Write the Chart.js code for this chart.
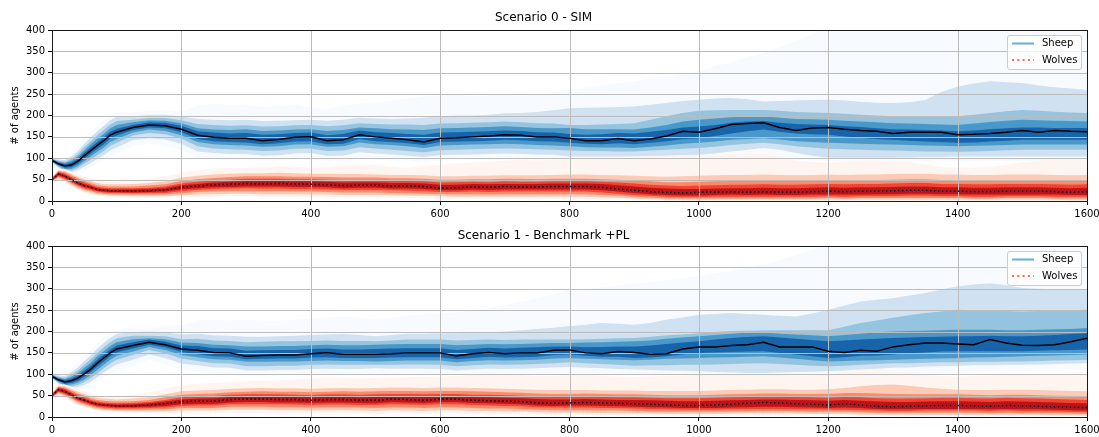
<!DOCTYPE html>
<html>
<head>
<meta charset="utf-8">
<title>Sheep and wolves population fans</title>
<script src="https://cdn.jsdelivr.net/npm/chart.js@4.4.1/dist/chart.umd.min.js"></script>
<style>
  html, body { margin: 0; padding: 0; background: #fff; }
  canvas { display: block; }
</style>
</head>
<body>
<canvas id="panel0" width="1099" height="218"></canvas>
<canvas id="panel1" width="1099" height="219"></canvas>
<script>
// Simulation steps at which the percentile bands were sampled
const steps = [0,10,20,30,40,50,60,70,80,90,100,125,150,175,200,225,250,275,300,325,350,375,400,425,450,475,500,525,550,575,600,625,650,675,700,725,750,775,800,825,850,875,900,925,950,975,1000,1025,1050,1075,1100,1125,1150,1175,1200,1225,1250,1275,1300,1325,1350,1375,1400,1425,1450,1475,1500,1525,1550,1575,1600];

const panelTitles = ['Scenario 0 - SIM', 'Scenario 1 - Benchmark +PL'];
const seriesNames = ['Sheep', 'Wolves'];
const yAxisLabel = '# of agents';
const xTickValues = [0, 200, 400, 600, 800, 1000, 1200, 1400, 1600];
const yTickValues = [0, 50, 100, 150, 200, 250, 300, 350, 400];

// ---- Scenario 0: sheep (median + nested bands, 0 = widest, 4 = narrowest)
const s0SheepMed = [95,87,82,84,93,106,118,130,141,154,161, 172,178,176,168, 154,149,147,147,141,144,149,150, 141,143,155,150,147,143,138,147, 148,150,152,155,154,150,150,147, 141,141,146,141,145,152,163,161, 169,179,181,183,172,165,171,172, 168,165,163,158,161,161,161,155, 156,158,161,165,161,165,163,162];
const s0SheepLo0 = [88,74,64,62,66,72,80,88,95,104,110, 128,134,130,118, 101,98,96,97,93,95,97,98, 92,93,99,97,95,93,90,94, 95,96,96,97,96,95,94,94, 94,94,95,95,96,96,97,97, 98,99,100,101,99,96,94,93, 92,91,90,89,90,91,92,93, 93,93,93,93,93,93,94,94];
const s0SheepHi0 = [102,101,102,112,128,146,162,177,190,200,207, 208,211,212,210, 222,228,224,226,220,222,225,219, 216,222,228,230,235,240,245,248, 250,245,248,250,252,250,255,260, 265,270,275,280,288,292,298,303, 315,325,336,346,360,375,390,410, 410,410,410,410,410,410,410,410, 410,410,410,410,410,410,410,410];
const s0SheepLo1 = [90,78,69,67,72,80,89,98,107,118,125, 142,147,144,134, 116,112,110,110,106,107,111,112, 105,106,114,111,109,106,103,107, 108,109,110,111,110,109,108,104, 104,104,104,104,105,106,107,108, 111,116,120,124,120,112,106,101, 101,101,101,101,102,103,103,104, 104,104,104,104,104,104,104,104];
const s0SheepHi1 = [100,97,96,104,117,134,149,163,176,189,197, 198,201,202,198, 192,190,189,190,187,188,189,190, 188,190,195,193,192,193,195,198, 200,200,202,205,206,208,212,217, 218,219,220,221,225,229,234,237, 240,241,238,233,234,235,236,237, 235,232,230,229,231,236,255,268, 275,280,278,276,270,266,263,260];
const s0SheepLo2 = [91,80,72,71,77,87,97,107,117,129,136, 153,159,156,146, 128,123,121,120,117,118,122,123, 117,118,126,123,120,117,114,119, 120,121,122,123,122,121,120,118, 117,117,116,116,118,120,122,124, 127,131,134,136,133,128,125,122, 121,120,119,118,117,116,116,115, 116,117,119,120,120,120,120,120];
const s0SheepHi2 = [99,94,92,98,110,126,140,154,166,179,187, 190,194,194,189, 180,178,176,177,174,175,177,178, 175,177,182,180,179,179,178,181, 182,183,184,186,184,182,181,178, 178,179,180,182,190,198,206,211, 212,213,213,213,211,208,207,206, 204,202,200,198,198,198,198,198, 202,206,210,213,211,209,207,206];
const s0SheepLo3 = [92,82,75,75,82,93,104,115,125,138,145, 160,167,164,154, 138,133,131,130,127,128,132,133, 127,128,137,133,131,128,124,130, 131,132,133,134,133,131,130,128, 126,125,125,124,127,130,134,136, 139,143,145,147,144,140,138,136, 135,134,133,132,131,130,129,128, 129,130,131,132,132,132,132,132];
const s0SheepHi3 = [98,92,89,94,104,119,133,146,157,170,178, 184,189,188,182, 170,167,166,168,164,165,167,168, 164,166,172,170,168,167,166,170, 171,172,173,175,173,171,170,171, 168,168,168,167,172,178,186,190, 193,196,197,198,195,192,191,190, 188,186,184,182,181,180,179,178, 181,185,188,190,189,188,187,186];
const s0SheepLo4 = [93,84,78,79,87,99,111,122,133,146,153, 166,172,170,161, 145,140,138,137,133,135,139,140, 133,134,145,140,138,135,131,138, 139,140,141,143,142,140,139,136, 134,133,135,133,136,140,145,147, 152,158,163,167,162,158,156,155, 151,148,145,143,141,139,138,136, 137,139,141,143,143,143,143,143];
const s0SheepHi4 = [97,90,86,90,99,113,126,138,149,162,169, 178,184,183,176, 163,160,158,159,155,156,159,160, 154,157,165,161,159,157,155,160, 161,162,163,165,164,161,160,157, 155,156,159,158,162,166,172,174, 178,183,186,187,183,180,179,178, 175,173,170,168,167,166,165,163, 165,168,170,172,172,171,171,171];

// ---- Scenario 0: wolves
const s0WolfMed = [50,63,58,50,42,36,32,27,25,24,24, 23,24,26,32, 35,38,39,41,40,41,40,39, 38,36,37,37,35,35,34,30, 31,33,32,34,33,33,34,34, 34,32,28,25,22,20,19,20, 21,22,21,22,21,21,22,23, 22,23,23,24,25,25,23,23, 22,22,23,23,23,22,21,22];
const s0WolfLo0 = [44,50,42,33,25,19,15,12,10,9,8, 7,7,7,8, 9,10,11,11,10,10,10,9, 9,8,8,8,7,7,6,5, 5,5,5,5,5,5,5,4, 4,3,2,2,1,1,0,0, 0,0,0,0,0,0,0,0, 0,0,0,0,0,0,0,0, 0,0,0,0,0,0,0,0];
const s0WolfHi0 = [58,75,74,69,63,57,53,48,46,45,46, 48,52,58,66, 72,76,78,77,80,82,80,78, 80,82,85,84,80,78,82,85, 88,90,92,95,96,95,96,98, 100,102,103,104,105,105,106,105, 108,110,112,110,106,95,92,90, 92,94,95,93,90,86,80,78, 78,80,85,90,94,98,100,100];
const s0WolfLo1 = [46,53,46,37,29,23,19,16,14,13,12, 11,11,11,13, 15,16,17,17,16,16,16,15, 15,14,14,14,13,12,12,11, 10,10,10,10,10,10,10,10, 10,8,7,6,4,3,3,2, 3,3,3,3,3,3,3,3, 3,3,3,3,3,3,3,3, 3,3,3,3,3,3,2,2];
const s0WolfHi1 = [56,72,70,64,57,51,47,42,40,39,39, 40,42,46,55, 59,62,64,65,65,66,65,64, 64,63,63,62,61,61,60,58, 58,59,59,60,60,60,61,62, 62,61,60,59,58,57,58,59, 60,61,61,62,61,60,61,62, 61,62,62,63,64,64,62,62, 61,61,62,62,62,61,60,61];
const s0WolfLo2 = [47,56,49,41,33,27,23,19,17,16,16, 15,15,15,18, 21,22,23,23,23,23,22,22, 21,20,20,20,19,18,17,16, 16,16,15,16,16,16,16,16, 16,14,12,10,8,6,6,6, 6,6,6,6,6,6,6,7, 6,7,7,7,7,7,7,7, 6,6,7,7,7,6,6,6];
const s0WolfHi2 = [54,70,67,60,53,47,42,37,35,34,34, 34,36,39,47, 51,54,56,58,58,58,57,57, 56,55,55,55,53,53,52,50, 50,51,51,52,52,51,52,52, 52,51,50,48,46,44,44,45, 46,47,47,48,47,47,48,49, 48,49,49,50,51,51,49,49, 48,48,49,49,49,48,47,48];
const s0WolfLo3 = [48,58,52,44,36,30,26,22,20,19,19, 18,18,19,23, 26,28,29,30,29,29,28,28, 27,26,26,26,25,24,23,21, 21,22,21,22,22,22,22,22, 22,20,17,14,12,10,9,9, 10,10,10,10,10,10,10,11, 10,11,11,11,12,12,11,11, 10,10,11,11,11,10,10,10];
const s0WolfHi3 = [53,68,64,56,49,43,38,33,31,30,30, 30,31,34,41, 45,48,50,52,52,52,51,51, 50,49,49,49,47,47,46,43, 44,45,44,46,45,45,46,46, 46,45,43,41,38,36,35,36, 37,38,38,39,38,38,39,40, 39,40,40,41,42,42,40,40, 39,39,40,40,40,39,38,39];
const s0WolfLo4 = [49,60,55,47,39,33,29,24,22,21,21, 20,21,22,27, 30,32,33,34,34,34,33,33, 32,30,31,31,29,29,28,25, 25,27,26,27,27,27,27,27, 27,25,22,19,16,14,13,13, 14,15,14,15,14,14,15,15, 15,15,16,16,17,17,16,16, 15,15,15,15,15,15,14,14];
const s0WolfHi4 = [52,66,61,53,45,39,35,30,28,27,27, 27,28,30,37, 40,43,45,47,47,47,46,46, 45,43,44,44,42,42,41,38, 38,40,39,40,40,40,41,41, 41,40,37,34,31,29,28,28, 29,30,30,31,30,30,31,32, 31,32,32,33,34,34,32,32, 31,31,32,32,32,31,30,31];

// ---- Scenario 1: sheep
const s1SheepMed = [95,87,82,85,91,101,112,126,138,150,159, 167,175,169,159, 156,151,150,142,144,145,145,148, 150,147,147,147,148,150,150,150, 143,148,151,148,150,150,156,157, 150,148,153,151,147,148,159,164, 164,167,169,175,164,164,164,154, 151,156,154,164,169,173,173,171, 169,181,173,168,167,169,176,184];
const s1SheepLo0 = [88,74,64,62,64,67,74,83,92,101,108, 118,134,124,110, 106,101,100,96,96,97,97,98, 99,98,98,101,100,100,99,98, 96,97,98,98,99,100,101,101, 100,100,99,99,98,97,96,95, 95,95,95,95,96,97,98,99, 99,99,99,99,100,101,102,103, 104,105,106,107,108,109,110,111];
const s1SheepHi0 = [102,101,102,113,127,143,157,173,187,197,205, 210,209,212,215, 225,228,226,228,226,225,228,230, 232,235,232,228,232,238,240,242, 245,250,255,262,270,278,288,298, 300,303,308,312,316,320,325,330, 336,342,350,358,366,378,392,410, 410,410,410,410,410,410,410,410, 410,410,410,410,410,410,410,410];
const s1SheepLo1 = [90,78,69,68,70,75,83,93,104,114,123, 134,146,138,125, 121,116,115,109,109,110,110,112, 113,112,112,114,113,113,113,112, 109,111,113,112,113,114,116,117, 115,114,112,111,110,109,108,107, 105,104,103,103,104,105,106,107, 109,111,113,115,116,118,119,120, 121,121,122,122,123,124,125,126];
const s1SheepHi1 = [100,97,96,105,116,131,144,160,173,185,194, 199,200,198,193, 195,191,190,188,188,189,190,192, 193,194,192,189,192,195,195,196, 196,197,198,200,203,206,209,212, 216,220,218,216,220,228,233,239, 241,243,241,239,237,235,242,251, 261,270,274,278,284,290,298,306, 310,313,308,302,300,299,298,298];
const s1SheepLo2 = [91,80,72,72,75,82,91,102,114,125,134, 145,157,149,137, 131,126,125,119,119,120,120,122, 123,122,122,122,122,123,123,122, 119,121,123,122,123,124,126,128, 126,124,122,120,121,121,122,122, 123,124,125,126,124,122,120,119, 120,122,124,126,126,127,128,128, 129,129,130,130,131,132,133,134];
const s1SheepHi2 = [99,94,92,99,109,122,135,150,163,175,184, 190,190,189,182, 183,179,178,175,176,177,177,178, 179,178,178,177,179,181,181,181, 179,180,181,180,181,181,181,181, 182,183,184,185,188,191,193,196, 199,201,202,203,203,203,203,203, 211,220,226,232,238,243,247,251, 250,249,248,247,248,249,250,251];
const s1SheepLo3 = [92,82,75,76,80,88,98,110,122,134,143, 153,164,157,145, 140,135,134,129,129,130,130,131, 132,131,131,130,131,132,132,132, 128,131,133,132,133,134,137,138, 136,135,134,133,134,136,137,138, 139,140,141,142,139,136,133,130, 131,132,133,134,135,136,137,138, 139,140,141,142,143,144,145,146];
const s1SheepHi3 = [98,92,89,94,103,115,127,142,154,166,175, 182,184,182,174, 173,169,168,165,165,166,166,168, 169,168,168,169,170,171,171,171, 168,169,171,170,171,172,173,173, 174,175,176,177,179,183,186,189, 192,195,197,198,195,193,191,189, 192,195,198,200,201,202,203,204, 204,204,203,203,204,205,206,208];
const s1SheepLo4 = [93,84,78,80,85,94,105,118,130,142,151, 160,169,163,152, 147,142,141,135,136,137,137,139, 140,138,138,138,139,140,140,140, 135,138,141,139,140,141,145,146, 143,141,141,138,139,142,146,150, 151,152,153,154,150,146,142,138, 140,143,144,146,149,151,153,154, 154,154,154,154,155,156,157,158];
const s1SheepHi4 = [97,90,86,90,97,108,120,134,146,158,167, 175,181,176,167, 166,161,160,155,156,157,157,159, 160,158,158,159,160,161,161,161, 157,159,162,160,162,163,165,165, 163,164,165,165,167,171,174,177, 181,185,187,189,186,183,180,177, 179,181,183,185,186,187,188,189, 189,190,189,189,190,192,194,196];

// ---- Scenario 1: wolves
const s1WolfMed = [50,64,60,52,44,39,34,30,28,27,26, 26,28,31,36, 37,37,41,42,42,41,41,39, 41,41,39,39,42,41,39,42, 42,39,38,37,36,33,32,33, 34,33,32,31,30,28,27,27, 28,30,32,34,33,31,30,28, 31,28,25,24,25,26,27,27, 26,25,27,26,25,24,23,22];
const s1WolfLo0 = [44,51,44,35,27,22,17,14,12,11,10, 9,9,8,9, 9,9,10,10,10,9,9,8, 9,9,8,6,8,8,7,8, 8,7,6,6,5,5,4,4, 4,3,3,3,2,2,2,2, 2,2,2,2,2,2,2,2, 2,1,1,1,1,1,1,1, 1,1,1,1,1,1,1,0];
const s1WolfHi0 = [58,76,76,71,65,60,55,51,49,48,48, 52,58,66,74, 78,80,82,84,85,86,88,90, 92,92,90,91,92,93,94,95, 96,98,100,100,98,96,97,99, 98,96,95,94,95,96,97,98, 99,100,100,99,98,97,98,100, 105,110,112,110,105,100,96,95, 96,97,98,99,100,100,100,100];
const s1WolfLo1 = [46,54,48,39,31,26,21,18,16,15,14, 13,13,13,15, 15,15,17,17,17,16,16,15, 16,16,15,14,16,15,14,16, 16,14,14,13,13,11,10,10, 10,9,9,8,8,7,7,7, 7,8,8,8,8,8,7,7, 7,6,6,5,5,5,5,5, 5,5,5,5,5,4,4,3];
const s1WolfHi1 = [56,73,72,66,59,54,49,45,43,42,41, 43,47,53,60, 62,63,66,67,68,67,67,66, 67,68,67,68,69,69,68,69, 69,68,67,66,65,64,63,63, 63,62,62,62,61,61,61,61, 62,63,64,65,65,64,64,65, 68,72,75,76,73,69,66,64, 63,63,64,64,63,62,61,60];
const s1WolfLo2 = [47,57,51,43,35,30,25,21,19,18,17, 17,17,18,21, 21,21,24,24,24,23,23,22, 23,23,22,21,23,22,21,23, 23,21,20,20,19,17,16,16, 16,15,15,14,13,12,12,12, 12,13,13,14,14,13,12,12, 12,11,10,10,10,10,10,10, 10,9,10,9,9,9,8,7];
const s1WolfHi2 = [54,71,69,62,55,50,44,40,38,37,36, 37,40,46,52, 54,55,58,59,60,59,59,58, 59,60,59,60,61,61,60,61, 61,60,59,58,57,55,54,54, 55,54,53,53,52,51,51,51, 52,53,54,55,55,54,54,54, 56,56,55,54,53,53,53,53, 52,51,52,52,51,50,49,48];
const s1WolfLo3 = [48,59,54,46,38,33,28,24,22,21,20, 20,21,22,26, 27,27,30,30,30,30,29,28, 29,29,28,28,30,29,28,30, 30,28,27,26,25,23,22,22, 22,21,21,20,19,18,17,17, 17,18,19,19,19,18,18,17, 17,16,15,14,14,15,15,15, 15,14,15,14,14,13,12,11];
const s1WolfHi3 = [53,69,66,58,51,46,40,36,34,33,32, 33,35,40,46, 48,49,52,53,53,53,52,51, 53,53,52,53,54,54,53,54, 54,52,52,51,50,48,47,47, 48,47,46,46,45,44,44,44, 45,46,47,48,48,47,46,45, 47,46,44,43,43,44,45,45, 44,43,45,44,43,42,41,40];
const s1WolfLo4 = [49,61,57,49,41,36,31,27,25,24,23, 23,24,26,30, 31,31,34,35,35,34,34,33, 34,34,33,32,35,34,33,35, 35,33,32,31,30,27,26,27, 27,26,25,24,23,22,21,21, 21,22,23,24,24,23,22,21, 22,21,19,18,18,19,19,19, 19,18,19,18,18,17,16,15];
const s1WolfHi4 = [52,67,63,55,47,42,37,33,31,30,29, 30,32,36,41, 43,44,47,48,48,48,47,46, 47,48,46,47,49,48,47,49, 49,47,46,45,44,42,41,41, 42,41,40,40,39,38,37,37, 38,39,40,41,41,40,39,38, 40,38,36,35,35,36,37,37, 36,35,37,36,35,34,33,32];

// Band colours, widest band first (Blues / Reds ramps)
const BLUES = ['#f7fbff', '#d0e1f2', '#94c4df', '#4a98c9', '#1764ab'];
const REDS  = ['#fff5f0', '#fdcab5', '#fc8a6a', '#f14432', '#bc141a'];
const legendColors = ['#6baed6', '#fb6a4a'];
const legendDash = [[], [2, 3.3]];

Chart.defaults.font.family = "'DejaVu Sans', sans-serif";
Chart.defaults.font.size = 10;
Chart.defaults.color = '#000';

function pts(vals) {
  return vals.map((v, i) => ({ x: steps[i], y: v }));
}

// Pushes lower/upper pairs; each upper line fills down to its lower line.
function addFan(datasets, los, his, colors, topOrder) {
  for (let k = 0; k < los.length; k++) {
    const common = { borderWidth: 0, borderColor: 'rgba(0,0,0,0)', pointRadius: 0, order: topOrder - k };
    datasets.push(Object.assign({ label: 'band-lo', data: pts(los[k]), fill: false }, common));
    datasets.push(Object.assign({ label: 'band-hi', data: pts(his[k]), fill: '-1', backgroundColor: colors[k] }, common));
  }
}

// Grid lines sit above the bands but below the median lines.
const gridUnderMedians = {
  id: 'gridUnderMedians',
  beforeDatasetDraw(chart, args) {
    if (chart.data.datasets[args.index].label !== 'sheep-median') return;
    const { ctx, chartArea: a, scales: { x, y } } = chart;
    ctx.save();
    ctx.strokeStyle = '#bcbcbc';
    ctx.lineWidth = 1;
    ctx.beginPath();
    xTickValues.forEach(v => {
      const px = Math.round(x.getPixelForValue(v)) + 0.5;
      ctx.moveTo(px, a.top); ctx.lineTo(px, a.bottom);
    });
    yTickValues.forEach(v => {
      const py = Math.round(y.getPixelForValue(v)) + 0.5;
      ctx.moveTo(a.left, py); ctx.lineTo(a.right, py);
    });
    ctx.stroke();
    ctx.restore();
  }
};

// Four-sided axes frame
const frame = {
  id: 'frame',
  afterDatasetsDraw(chart) {
    const { ctx, chartArea: a } = chart;
    const l = Math.round(a.left) + 0.5, r = Math.round(a.right) + 0.5;
    const t = Math.round(a.top) + 0.5, b = Math.round(a.bottom) + 0.5;
    ctx.save();
    ctx.strokeStyle = '#1a1a1a';
    ctx.lineWidth = 1;
    ctx.strokeRect(l, t, r - l, b - t);
    ctx.restore();
  }
};

// Legend box in the upper right corner of the plot area
const legendBox = {
  id: 'legendBox',
  afterDraw(chart) {
    const { ctx, chartArea: a } = chart;
    const w = 74, h = 34, rad = 2.5;
    const x0 = Math.round(a.right) - 6 - w + 0.5;
    const y0 = Math.round(a.top) + 5 + 0.5;
    ctx.save();
    ctx.beginPath();
    ctx.moveTo(x0 + rad, y0);
    ctx.lineTo(x0 + w - rad, y0);
    ctx.arcTo(x0 + w, y0, x0 + w, y0 + rad, rad);
    ctx.lineTo(x0 + w, y0 + h - rad);
    ctx.arcTo(x0 + w, y0 + h, x0 + w - rad, y0 + h, rad);
    ctx.lineTo(x0 + rad, y0 + h);
    ctx.arcTo(x0, y0 + h, x0, y0 + h - rad, rad);
    ctx.lineTo(x0, y0 + rad);
    ctx.arcTo(x0, y0, x0 + rad, y0, rad);
    ctx.closePath();
    ctx.fillStyle = 'rgba(255,255,255,0.8)';
    ctx.fill();
    ctx.strokeStyle = '#cccccc';
    ctx.lineWidth = 1;
    ctx.stroke();
    seriesNames.forEach((name, i) => {
      const yy = y0 + 8 + i * 16.5;
      ctx.strokeStyle = legendColors[i];
      ctx.lineWidth = 2;
      ctx.lineCap = 'butt';
      ctx.setLineDash(legendDash[i]);
      ctx.beginPath();
      ctx.moveTo(x0 + 4.5, yy);
      ctx.lineTo(x0 + 26.5, yy);
      ctx.stroke();
      ctx.setLineDash([]);
      ctx.fillStyle = '#000';
      ctx.font = "10px 'DejaVu Sans', sans-serif";
      ctx.textBaseline = 'middle';
      ctx.textAlign = 'left';
      ctx.fillText(name, x0 + 34.5, yy);
    });
    ctx.restore();
  }
};

function makePanel(canvasId, title, sheep, wolves, xAxisHeight, titlePad) {
  const datasets = [];
  addFan(datasets, sheep.lo, sheep.hi, BLUES, 24);
  addFan(datasets, wolves.lo, wolves.hi, REDS, 14);
  datasets.push({ label: 'sheep-median', data: pts(sheep.med), borderColor: '#000', borderWidth: 1.5,
                  pointRadius: 0, fill: false, order: 1 });
  datasets.push({ label: 'wolves-median', data: pts(wolves.med), borderColor: '#000', borderWidth: 1.5,
                  borderDash: [1.5, 2.5], pointRadius: 0, fill: false, order: 0 });

  const tickGrid = { drawOnChartArea: false, drawTicks: true, tickLength: 4, tickColor: '#000', tickWidth: 1 };

  return new Chart(document.getElementById(canvasId), {
    type: 'line',
    data: { datasets },
    options: {
      responsive: false,
      animation: false,
      devicePixelRatio: 1,
      events: [],
      layout: { padding: { left: 0, right: 12, top: 0, bottom: 0 } },
      elements: { line: { tension: 0, borderCapStyle: 'butt' }, point: { radius: 0 } },
      plugins: {
        legend: { display: false },
        tooltip: { enabled: false },
        title: {
          display: true, text: title, color: '#000',
          font: { size: 12, weight: 'normal', lineHeight: 1.25 },
          padding: titlePad
        }
      },
      scales: {
        x: {
          type: 'linear', min: 0, max: 1600,
          afterBuildTicks(s) { s.ticks = xTickValues.map(v => ({ value: v })); },
          afterFit(s) { s.height = xAxisHeight; s.paddingLeft = 0; s.paddingRight = 0; },
          grid: tickGrid,
          border: { display: false },
          ticks: { padding: 3, autoSkip: false, maxRotation: 0, color: '#000', callback: v => String(v) }
        },
        y: {
          type: 'linear', min: 0, max: 400,
          afterBuildTicks(s) { s.ticks = yTickValues.map(v => ({ value: v })); },
          afterFit(s) { s.width = 52; s.paddingTop = 0; s.paddingBottom = 0; },
          grid: tickGrid,
          border: { display: false },
          ticks: { padding: 3, autoSkip: false, color: '#000', callback: v => String(v) },
          title: { display: true, text: yAxisLabel, color: '#000', font: { size: 10 }, padding: { top: 9, bottom: 0 } }
        }
      }
    },
    plugins: [gridUnderMedians, frame, legendBox]
  });
}

makePanel('panel0', panelTitles[0],
  { med: s0SheepMed,
    lo: [s0SheepLo0, s0SheepLo1, s0SheepLo2, s0SheepLo3, s0SheepLo4],
    hi: [s0SheepHi0, s0SheepHi1, s0SheepHi2, s0SheepHi3, s0SheepHi4] },
  { med: s0WolfMed,
    lo: [s0WolfLo0, s0WolfLo1, s0WolfLo2, s0WolfLo3, s0WolfLo4],
    hi: [s0WolfHi0, s0WolfHi1, s0WolfHi2, s0WolfHi3, s0WolfHi4] },
  17, { top: 10, bottom: 5 });

makePanel('panel1', panelTitles[1],
  { med: s1SheepMed,
    lo: [s1SheepLo0, s1SheepLo1, s1SheepLo2, s1SheepLo3, s1SheepLo4],
    hi: [s1SheepHi0, s1SheepHi1, s1SheepHi2, s1SheepHi3, s1SheepHi4] },
  { med: s1WolfMed,
    lo: [s1WolfLo0, s1WolfLo1, s1WolfLo2, s1WolfLo3, s1WolfLo4],
    hi: [s1WolfHi0, s1WolfHi1, s1WolfHi2, s1WolfHi3, s1WolfHi4] },
  20, { top: 10, bottom: 3 });
</script>
</body>
</html>
